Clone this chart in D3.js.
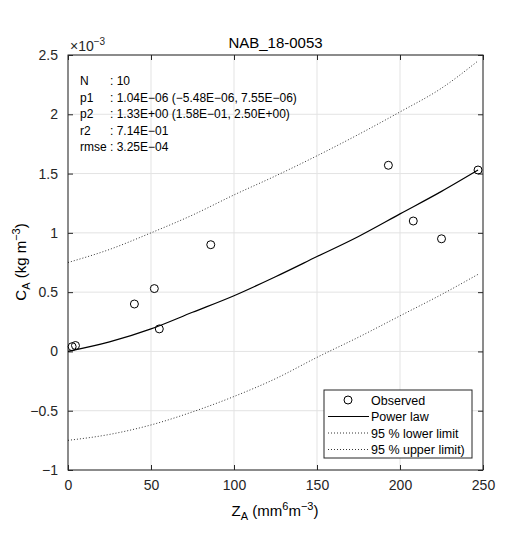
<!DOCTYPE html>
<html><head><meta charset="utf-8">
<script src="https://d3js.org/d3.v7.min.js"></script>
<style>body{margin:0;background:#fff}text{font-family:"Liberation Sans",Arial,sans-serif}</style>
</head><body><div id="chart"></div>
<script>
// observed points (x in mm6 m-3, y in 1e-3 kg m-3)
const obsX = [2.5, 4.5, 40, 52, 55, 86, 193, 208, 225, 247];
const obsY = [0.04, 0.05, 0.40, 0.53, 0.19, 0.90, 1.57, 1.10, 0.95, 1.53];
// curves
const curveX = [0, 25, 50, 75, 100, 125, 150, 175, 200, 225, 247];
const fitY   = [0, 0.08, 0.19, 0.33, 0.47, 0.63, 0.80, 0.97, 1.16, 1.35, 1.53];
const lowY   = [-0.75, -0.70, -0.62, -0.51, -0.38, -0.23, -0.05, 0.12, 0.30, 0.48, 0.65];
const upY    = [0.75, 0.86, 1.00, 1.15, 1.32, 1.48, 1.65, 1.83, 2.02, 2.22, 2.45];
const xTicks = [0, 50, 100, 150, 200, 250];
const yTicks = [-1, -0.5, 0, 0.5, 1, 1.5, 2, 2.5];
const stats = [["N", ": 10"], ["p1", ": 1.04E\u221206 (\u22125.48E\u221206, 7.55E\u221206)"],
  ["p2", ": 1.33E+00 (1.58E\u221201, 2.50E+00)"], ["r2", ": 7.14E\u221201"], ["rmse", ": 3.25E\u221204"]];
const legendItems = ["Observed", "Power law", "95 % lower limit", "95 % upper limit)"];

const W = 520, H = 540, L = 68, R = 483, T = 55, B = 470;
const svg = d3.select("#chart").append("svg").attr("width", W).attr("height", H);
const x = d3.scaleLinear().domain([0, 250]).range([L, R]);
const y = d3.scaleLinear().domain([-1, 2.5]).range([B, T]);

// grid
svg.append("g").selectAll("line").data(xTicks).join("line")
  .attr("x1", d => x(d)).attr("x2", d => x(d)).attr("y1", T).attr("y2", B)
  .attr("stroke", "#e3e3e3");
svg.append("g").selectAll("line").data(yTicks).join("line")
  .attr("y1", d => y(d)).attr("y2", d => y(d)).attr("x1", L).attr("x2", R)
  .attr("stroke", "#e3e3e3");

// axes, ticks inward
const ax = (g, a) => g.call(a).call(g => g.select(".domain").remove())
  .call(g => g.selectAll("text").attr("font-size", 14).attr("fill", "#262626"))
  .call(g => g.selectAll("line").attr("stroke", "#262626"));
svg.append("g").attr("transform", `translate(0,${B})`)
  .call(g => ax(g, d3.axisBottom(x).tickValues(xTicks).tickSizeInner(-5).tickSizeOuter(0).tickPadding(10)));
svg.append("g").attr("transform", `translate(0,${T})`)
  .call(g => ax(g, d3.axisTop(x).tickValues(xTicks).tickSizeInner(-5).tickSizeOuter(0).tickFormat("")));
svg.append("g").attr("transform", `translate(${L},0)`)
  .call(g => ax(g, d3.axisLeft(y).tickValues(yTicks).tickSizeInner(-5).tickSizeOuter(0).tickPadding(10).tickFormat(d3.format("~g"))));
svg.append("g").attr("transform", `translate(${R},0)`)
  .call(g => ax(g, d3.axisRight(y).tickValues(yTicks).tickSizeInner(-5).tickSizeOuter(0).tickFormat("")));
svg.append("rect").attr("x", L).attr("y", T).attr("width", R - L).attr("height", B - T)
  .attr("fill", "none").attr("stroke", "#262626");

// curves
const line = ys => d3.line().x((d, i) => x(d)).y((d, i) => y(ys[i])).curve(d3.curveMonotoneX)(curveX);
svg.append("path").attr("d", line(fitY)).attr("fill", "none").attr("stroke", "#000").attr("stroke-width", 1.2);
[lowY, upY].forEach(ys => svg.append("path").attr("d", line(ys)).attr("fill", "none")
  .attr("stroke", "#000").attr("stroke-width", 0.8).attr("stroke-dasharray", "1,2"));

// points
svg.append("g").selectAll("circle").data(obsX).join("circle")
  .attr("cx", d => x(d)).attr("cy", (d, i) => y(obsY[i])).attr("r", 4)
  .attr("fill", "none").attr("stroke", "#000");

// title + exponent
svg.append("text").attr("x", (L + R) / 2).attr("y", 48).attr("text-anchor", "middle")
  .attr("font-size", 15).text("NAB_18-0053");
const ex = svg.append("text").attr("x", L + 2).attr("y", 51).attr("font-size", 14).attr("fill", "#262626");
ex.append("tspan").text("\u00d710");
ex.append("tspan").attr("dy", -6).attr("font-size", 10).text("\u22123");

// stats
stats.forEach((s, i) => {
  const t = svg.append("text").attr("x", 80).attr("y", 85 + i * 16.5).attr("font-size", 12);
  t.append("tspan").text(s[0]);
  t.append("tspan").attr("x", 110).text(s[1]);
});

// axis labels
const xl = svg.append("text").attr("x", 275).attr("y", 516).attr("text-anchor", "middle").attr("font-size", 15);
xl.append("tspan").text("Z");
xl.append("tspan").attr("font-size", 11).attr("dy", 4).text("A");
xl.append("tspan").attr("dy", -4).text(" (mm");
xl.append("tspan").attr("font-size", 11).attr("dy", -6).text("6");
xl.append("tspan").attr("dy", 6).text("m");
xl.append("tspan").attr("font-size", 11).attr("dy", -6).text("\u22123");
xl.append("tspan").attr("dy", 6).text(")");
const yl = svg.append("text").attr("transform", "translate(26,262) rotate(-90)").attr("text-anchor", "middle").attr("font-size", 15);
yl.append("tspan").text("C");
yl.append("tspan").attr("font-size", 11).attr("dy", 4).text("A");
yl.append("tspan").attr("dy", -4).text(" (kg m");
yl.append("tspan").attr("font-size", 11).attr("dy", -6).text("\u22123");
yl.append("tspan").attr("dy", 6).text(")");

// legend
const lg = svg.append("g");
lg.append("rect").attr("x", 324).attr("y", 390).attr("width", 148).attr("height", 68)
  .attr("fill", "#fff").attr("stroke", "#262626");
legendItems.forEach((t, i) => {
  const yy = 400 + i * 16.5;
  if (i === 0) lg.append("circle").attr("cx", 348).attr("cy", yy).attr("r", 4).attr("fill", "none").attr("stroke", "#000");
  else lg.append("line").attr("x1", 328).attr("x2", 369).attr("y1", yy).attr("y2", yy).attr("stroke", "#000")
    .attr("stroke-width", i === 1 ? 1.2 : 0.8).attr("stroke-dasharray", i === 1 ? null : "1,2");
  lg.append("text").attr("x", 371).attr("y", yy + 4.5).attr("font-size", 12.5).text(t);
});
</script></body></html>
